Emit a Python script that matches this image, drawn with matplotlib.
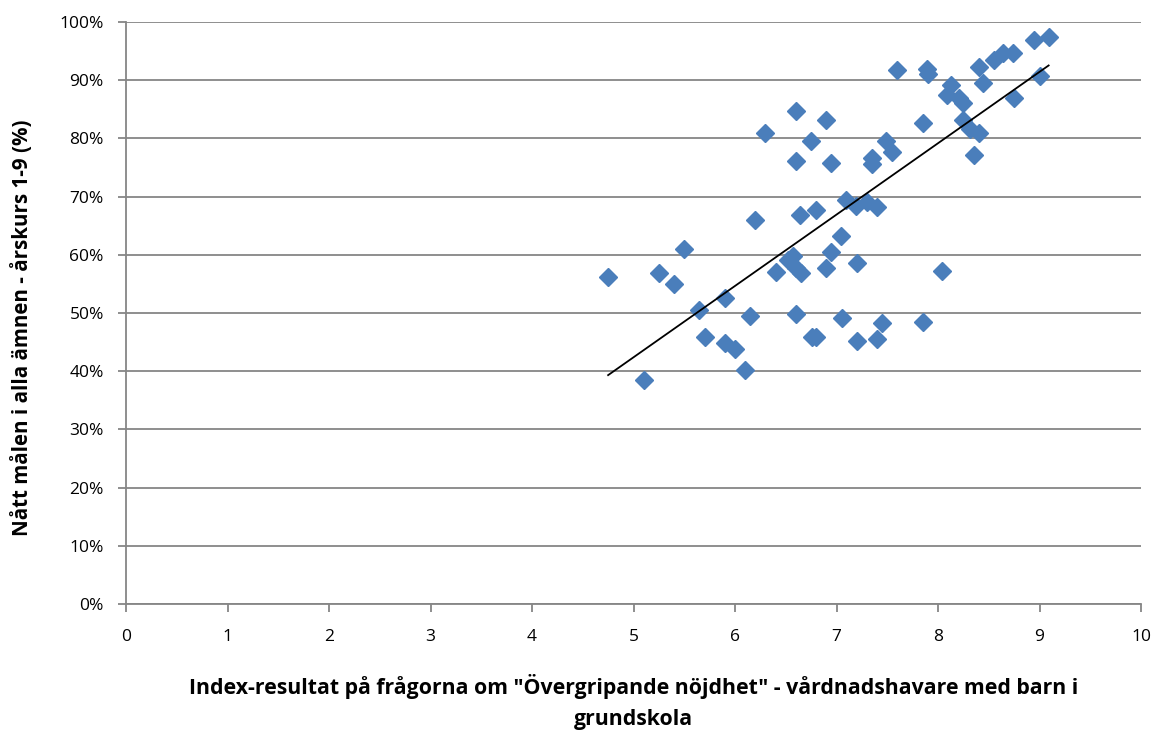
import matplotlib
matplotlib.use("Agg")
import matplotlib.pyplot as plt
from matplotlib.ticker import PercentFormatter, MultipleLocator
import numpy as np

plt.rcParams['font.family'] = ['Open Sans', 'DejaVu Sans']

index_result = [4.75, 5.10, 5.25, 5.40, 5.50, 5.65, 5.70, 5.90, 5.90, 6.00,
                6.10, 6.15, 6.20, 6.30, 6.40, 6.52, 6.57, 6.60, 6.65, 6.60,
                6.60, 6.60, 6.64, 6.75, 6.76, 6.80, 6.80, 6.90, 6.90, 6.95,
                6.95, 7.04, 7.05, 7.09, 7.19, 7.20, 7.20, 7.30, 7.35, 7.35,
                7.40, 7.40, 7.45, 7.49, 7.55, 7.60, 7.85, 7.85, 7.89, 7.90,
                8.04, 8.09, 8.13, 8.21, 8.25, 8.25, 8.32, 8.35, 8.40, 8.40,
                8.44, 8.55, 8.64, 8.74, 8.75, 8.95, 9.00, 9.09]
goal_pct = [56.2, 38.5, 56.9, 55.0, 61.0, 50.6, 45.8, 52.6, 44.8, 43.8,
            40.2, 49.4, 65.9, 80.9, 57.0, 59.1, 59.8, 57.7, 56.8, 49.8,
            84.7, 76.1, 66.8, 79.6, 45.8, 45.8, 67.7, 83.2, 57.7, 60.4,
            75.8, 63.3, 49.1, 69.4, 68.4, 58.6, 45.2, 69.0, 76.7, 75.6,
            68.2, 45.6, 48.2, 79.6, 77.7, 91.8, 82.6, 48.5, 92.0, 91.1,
            57.3, 87.5, 89.2, 86.9, 86.0, 83.2, 81.7, 77.1, 80.9, 92.3,
            89.6, 93.5, 94.6, 94.6, 87.0, 96.9, 90.7, 97.5]

x_label = 'Index-resultat på frågorna om "Övergripande nöjdhet" - vårdnadshavare med barn i\ngrundskola'
y_label = 'Nått målen i alla ämnen - årskurs 1-9 (%)'

x = np.array(index_result)
y = np.array(goal_pct) / 100.0

fig = plt.figure(figsize=(11.58, 7.31), dpi=100)
ax = fig.add_axes([126/1158, 1 - 604/731, (1141-126)/1158, (604-22)/731])

grid_c = '#868686'
ax.set_xlim(0, 10)
ax.set_ylim(0, 1.0)
ax.xaxis.set_major_locator(MultipleLocator(1))
ax.yaxis.set_major_locator(MultipleLocator(0.1))
ax.yaxis.set_major_formatter(PercentFormatter(1.0, decimals=0))
ax.grid(axis='y', color=grid_c, linewidth=1.3)
ax.set_axisbelow(True)
for s in ['top', 'right']:
    ax.spines[s].set_visible(False)
for s in ['left', 'bottom']:
    ax.spines[s].set_color(grid_c)
    ax.spines[s].set_linewidth(1.3)
ax.tick_params(axis='both', direction='out', length=6, width=1.3, color=grid_c,
               labelsize=12.5, labelcolor='black')
ax.tick_params(axis='y', pad=10)
ax.tick_params(axis='x', pad=12)

ax.plot(x, y, linestyle='none', marker='D', markersize=9.5,
        color='#4A7EBB', markeredgecolor='#4A7EBB', zorder=3)

coef = np.polyfit(x, y, 1)
xs = np.array([x.min(), x.max()])
ax.plot(xs, np.polyval(coef, xs), color='black', linewidth=1.3, zorder=4)

ax.set_xlabel(x_label, fontsize=15.3, fontweight='bold', linespacing=1.6)
ax.xaxis.set_label_coords(0.5, -0.121)
ax.set_ylabel(y_label, fontsize=14.8, fontweight='bold')
ax.yaxis.set_label_coords(-0.092, 0.474)

fig.savefig('out.png', dpi=100)
